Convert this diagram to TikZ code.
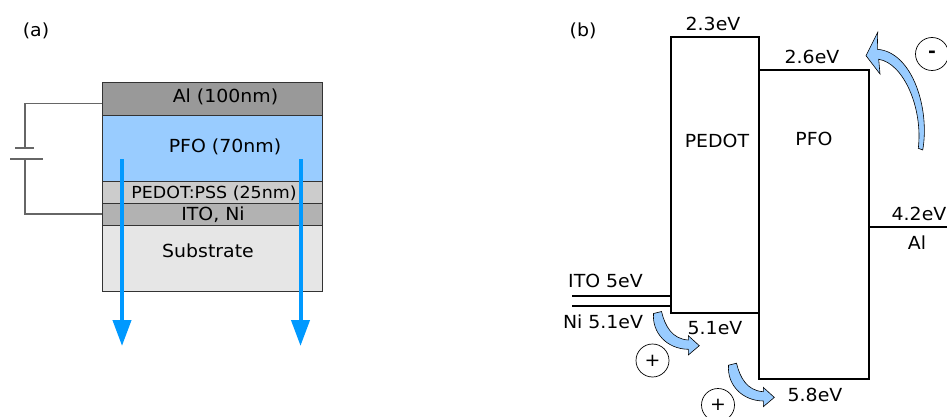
\documentclass[tikz,border=0pt]{standalone}
\usepackage{fontspec}
\setmainfont[FakeStretch=1.05]{DejaVu Sans}
\usepackage{tikz}
\usetikzlibrary{
  arrows.meta,
  positioning
}
\definecolor{alumgray}{HTML}{999999}
\definecolor{pfoblue}{HTML}{99CCFF}
\definecolor{pedotgray}{HTML}{CCCCCC}
\definecolor{itogray}{HTML}{B2B2B2}
\definecolor{subgray}{HTML}{E6E6E6}
\definecolor{lightray}{HTML}{0099FF}
\definecolor{wiregray}{HTML}{666666}
\tikzset{
  layerbox/.style={draw=black!80, line width=0.7pt, anchor=north west, inner sep=0pt, outer sep=0pt, minimum width=220pt},
  levelbox/.style={draw=black, line width=2pt, anchor=north west, inner sep=0pt, outer sep=0pt},
  wire/.style={draw=wiregray, line width=1.2pt},
  level/.style={draw=black, line width=2pt},
  lightarrow/.style={draw=lightray, line width=4pt, -{Triangle[width=18pt,length=26pt]}},
  chargebox/.style={draw=black, circle, line width=0.7pt, minimum size=33pt, inner sep=0pt},
  carrier/.style={draw=black, line width=0.6pt, fill=pfoblue},
  holearrow/.pic={
    \path[carrier] (653.5,313.5) .. controls (652,333) and (667,349) .. (688.3,349.3)
      -- (688.3,355) -- (699.3,345.7) -- (688.3,335.7) -- (688.3,340)
      .. controls (672,339) and (665,326) .. (661.5,311.5) -- cycle;
  }
}
\begin{document}
\begin{tikzpicture}[x=1pt, y=-1pt, every node/.style={font=\fontsize{18}{20}\selectfont, text=black}]
    \useasboundingbox (0,0) rectangle (947,417);

    % Panel labels
    \node (panela) at (36,31) {(a)};
    \node (panelb) at (583,31) {(b)};

    % Layer stack
    \node[layerbox, fill=alumgray, minimum height=33pt] (alum) at (102,82) {};
    \node[layerbox, fill=pfoblue, minimum height=66pt] (pfo) at (102,115) {};
    \node[layerbox, fill=pedotgray, minimum height=22pt] (pedot) at (102,181) {};
    \node[layerbox, fill=itogray, minimum height=22pt] (ito) at (102,203) {};
    \node[layerbox, fill=subgray, minimum height=66pt] (substrate) at (102,225) {};
    \node (alumtext) at (225.5,97) {Al (100nm)};
    \node (pfotext) at (225,147) {PFO (70nm)};
    \node[font=\fontsize{16.6}{20}\selectfont] (pedottext) at (214,193) {PEDOT:PSS (25nm)};
    \node (itotext) at (213,215) {ITO, Ni};
    \node (subtext) at (208,251) {Substrate};

    % Battery
    \coordinate (plateshort) at (25,148);
    \coordinate (platelong) at (25,159);
    \draw[wire] ([yshift=-5pt]alum.west) -| (plateshort);
    \draw[wire] (ito.west) -| (platelong);
    \draw[wire] ([xshift=-10pt]plateshort) -- ([xshift=9pt]plateshort);
    \draw[wire] ([xshift=-15pt]platelong) -- ([xshift=18pt]platelong);

    % Light rays
    \coordinate (rayastart) at (122,159);
    \coordinate (rayaend) at (122,346);
    \coordinate (raybstart) at (300.5,159);
    \coordinate (raybend) at (300.5,346);
    \draw[lightarrow] (rayastart) -- (rayaend);
    \draw[lightarrow] (raybstart) -- (raybend);

    % Energy levels
    \node[levelbox, minimum width=88pt, minimum height=276pt] (pedotlevel) at (671,37) {};
    \node[levelbox, minimum width=110pt, minimum height=308.5pt] (pfolevel) at (759,70.5) {};
    \node (pedotname) at (717,141) {PEDOT};
    \node (pfoname) at (814,139) {PFO};
    \node (lumopedot) at (713,24) {2.3eV};
    \node (lumopfo) at (812,57) {2.6eV};
    \node (homopedot) at (715,328) {5.1eV};
    \node (homopfo) at (815,395) {5.8eV};

    % Electrodes
    \coordinate (itoend) at (572,295.5);
    \coordinate (niend) at (572,306);
    \coordinate (alend) at (947,227);
    \draw[level] (itoend) -- (itoend -| pedotlevel.west);
    \draw[level] (niend) -- (niend -| pedotlevel.west);
    \draw[level] (alend) -- (alend -| pfolevel.east);
    \node (itolabel) at (605.5,281) {ITO 5eV};
    \node (nilabel) at (603,322) {Ni 5.1eV};
    \node[anchor=east, inner sep=0pt] (allevel) at (946.5,214) {4.2eV};
    \node (alname) at (917,243) {Al};

    % Carriers
    \pic at (0,0) {holearrow};
    \pic at (75,51.7) {holearrow};
    \path[carrier] (922.7,150) .. controls (930,110) and (913,52) .. (877.3,49.3)
      -- (877.7,32.3) -- (866,55.7) -- (880,74) -- (878.7,59.3)
      .. controls (903,63) and (923,107) .. (918.3,148.3) -- cycle;
    \node[chargebox] (holea) at (652.5,360.5) {+};
    \node[chargebox] (holeb) at (718,405) {+};
    \node[chargebox] (electron) at (932,54) {\textbf{-}};
\end{tikzpicture}
\end{document}
